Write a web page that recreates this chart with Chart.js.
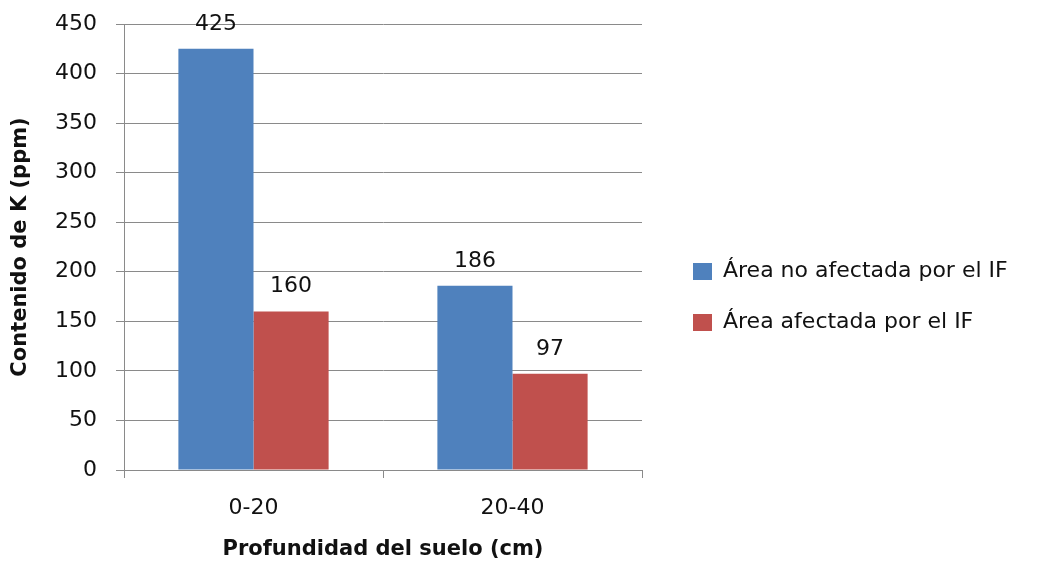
<!DOCTYPE html>
<html>
<head>
<meta charset="utf-8">
<script src="https://cdn.jsdelivr.net/npm/chart.js@4"></script>
<style>
  html, body { margin: 0; padding: 0; background: #fff; }
  #wrap { width: 1042px; height: 562px; }
</style>
</head>
<body>
<div id="wrap"><canvas id="grafico" width="1042" height="562"></canvas></div>
<script>
// datos del grafico
const profundidades = ['0-20', '20-40'];
const noAfectada = [425, 186];
const afectada = [160, 97];
const etiquetasSeries = ['Área no afectada por el IF', 'Área afectada por el IF'];

const fuente = 'DejaVu Sans';
const colorGrid = '#8a8a8a';

// etiquetas de valor encima de cada barra
const etiquetasValor = {
    id: 'etiquetasValor',
    afterDatasetsDraw(chart) {
        const ctx = chart.ctx;
        ctx.save();
        ctx.font = '22px "' + fuente + '"';
        ctx.fillStyle = '#111';
        ctx.textAlign = 'center';
        ctx.textBaseline = 'alphabetic';
        chart.data.datasets.forEach((ds, i) => {
            chart.getDatasetMeta(i).data.forEach((barra, j) => {
                ctx.fillText(ds.data[j], barra.x, barra.y - 19);
            });
        });
        ctx.restore();
    }
};

// leyenda a la derecha, con ancho fijo y movida un poco
const ubicarLeyenda = {
    id: 'ubicarLeyenda',
    afterInit(chart) {
        const leyenda = chart.legend;
        const fitOriginal = leyenda.fit;
        leyenda.fit = function () {
            fitOriginal.call(this);
            this.width = 400;
        };
    },
    afterLayout(chart) {
        const leyenda = chart.legend;
        leyenda.left += 22;
        leyenda.right += 22;
        leyenda.top += 4;
        leyenda.bottom += 4;
    }
};

new Chart(document.getElementById('grafico').getContext('2d'), {
    type: 'bar',
    data: {
        labels: profundidades,
        datasets: [{
            label: etiquetasSeries[0],
            data: noAfectada,
            backgroundColor: '#4F81BD',
            categoryPercentage: 0.58,
            barPercentage: 1.0
        }, {
            label: etiquetasSeries[1],
            data: afectada,
            backgroundColor: '#C0504D',
            categoryPercentage: 0.58,
            barPercentage: 1.0
        }]
    },
    options: {
        responsive: false,
        animation: false,
        layout: {
            padding: { top: 24, left: 0, right: 0, bottom: 0 }
        },
        plugins: {
            legend: {
                position: 'right',
                align: 'center',
                labels: {
                    boxWidth: 19,
                    boxHeight: 17,
                    padding: 29,
                    color: '#111',
                    font: { family: fuente, size: 22 }
                }
            },
            tooltip: { enabled: false }
        },
        scales: {
            x: {
                grid: {
                    offset: true,
                    drawOnChartArea: false,
                    tickLength: 8,
                    color: colorGrid
                },
                border: { color: colorGrid },
                ticks: {
                    padding: 17,
                    color: '#111',
                    font: { family: fuente, size: 22 }
                },
                title: {
                    display: true,
                    text: 'Profundidad del suelo (cm)',
                    color: '#111',
                    padding: { top: 0, bottom: 0 },
                    font: { family: fuente, size: 21, weight: 'bold' }
                },
                afterFit(scale) { scale.height = 92; }
            },
            y: {
                min: 0,
                max: 450,
                grid: {
                    tickLength: 8,
                    color: colorGrid
                },
                border: { color: colorGrid },
                ticks: {
                    stepSize: 50,
                    padding: 19,
                    color: '#111',
                    font: { family: fuente, size: 22 }
                },
                title: {
                    display: true,
                    text: 'Contenido de K (ppm)',
                    color: '#111',
                    padding: { top: 8, bottom: 0 },
                    font: { family: fuente, size: 21, weight: 'bold' }
                },
                afterFit(scale) {
                    scale.width = 124;
                    scale.paddingTop = 0;
                    scale.paddingBottom = 0;
                }
            }
        }
    },
    plugins: [etiquetasValor, ubicarLeyenda]
});
</script>
</body>
</html>
